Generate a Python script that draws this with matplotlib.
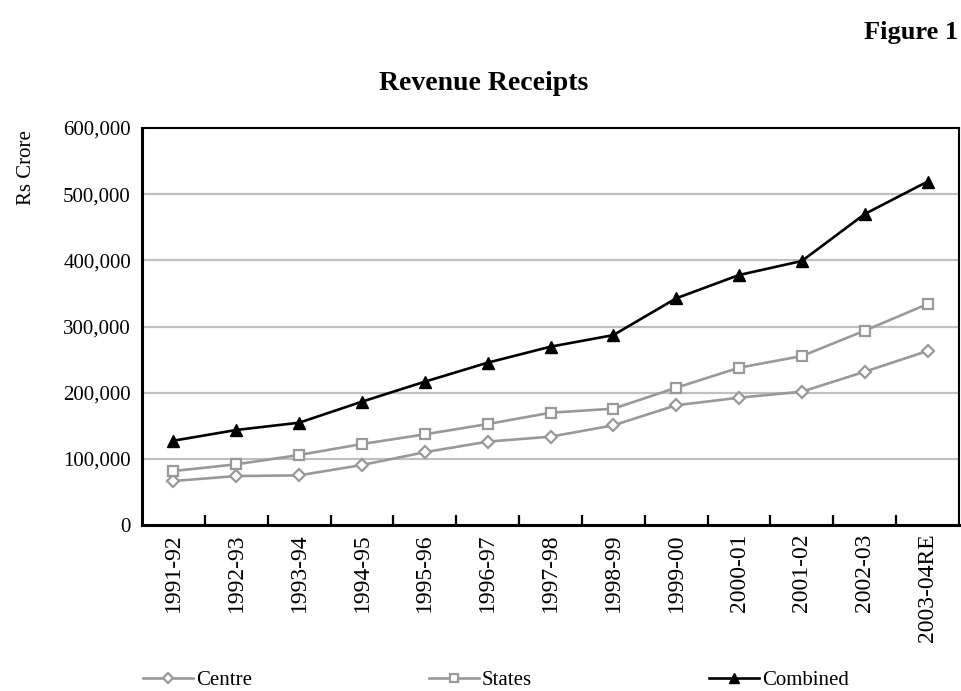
import matplotlib
matplotlib.use("Agg")
import matplotlib.pyplot as plt
from matplotlib.ticker import FixedLocator, FuncFormatter

plt.rcParams["font.family"] = ["Liberation Serif", "DejaVu Serif"]

YEARS = [
    "1991-92", "1992-93", "1993-94", "1994-95", "1995-96", "1996-97", "1997-98",
    "1998-99", "1999-00", "2000-01", "2001-02", "2002-03", "2003-04RE",
]

# Rs crore
CENTRE = [66500, 74000, 75000, 90700, 110000, 126000, 133500,
          150600, 181000, 192400, 201500, 231700, 263000]
STATES = [81600, 91700, 105800, 122400, 137000, 152600, 169700,
          175800, 207500, 237700, 255400, 293700, 334000]
COMBINED = [127400, 143600, 154600, 186400, 216600, 245300, 269500,
            287000, 342600, 377800, 399000, 470000, 519000]

Y_TICKS = [0, 100000, 200000, 300000, 400000, 500000, 600000]

GREY = "#999999"
GRID = "#c0c0c0"


def main() -> None:
    fig = plt.figure(figsize=(9.61, 6.91), dpi=100)
    ax = fig.add_axes([142 / 961, 1 - 525 / 691, (959 - 142) / 961, (525 - 128) / 691])

    x = list(range(len(YEARS)))
    ax.plot(x, CENTRE, color=GREY, lw=1.9, marker="D", ms=6.5, mfc="white",
            mec=GREY, mew=1.6, label="Centre", zorder=3)
    ax.plot(x, STATES, color=GREY, lw=1.9, marker="s", ms=7.5, mfc="white",
            mec=GREY, mew=1.6, label="States", zorder=3)
    ax.plot(x, COMBINED, color="black", lw=1.9, marker="^", ms=9,
            mfc="black", mec="black", label="Combined", zorder=4)

    ax.set_xlim(-0.5, len(YEARS) - 0.5)
    ax.set_ylim(0, 600000)

    ax.set_yticks(Y_TICKS)
    ax.yaxis.set_major_formatter(FuncFormatter(lambda v, _: f"{int(v):,}"))
    ax.tick_params(axis="y", length=0, pad=8, labelsize=15)
    for v in Y_TICKS[1:-1]:
        ax.axhline(v, color=GRID, lw=1.6, zorder=1)

    ax.set_xticks(x)
    ax.set_xticklabels(YEARS, rotation=90, va="top", ha="center")
    ax.tick_params(axis="x", which="major", length=0, pad=6, labelsize=17)
    ax.xaxis.set_minor_locator(FixedLocator([i + 0.5 for i in range(len(YEARS) - 1)]))
    ax.tick_params(axis="x", which="minor", direction="in", length=7, width=1.6,
                   color="black")

    for side in ("left", "bottom"):
        ax.spines[side].set_linewidth(2.2)
    for side in ("top", "right"):
        ax.spines[side].set_linewidth(1.5)

    ax.set_ylabel("Rs Crore", fontsize=15)
    ax.yaxis.set_label_coords(-0.13, 0.9)

    fig.text(484 / 961, 1 - 84 / 691, "Revenue Receipts", ha="center", va="center",
             fontsize=20, fontweight="bold")
    fig.text(958 / 961, 1 - 32 / 691, "Figure 1", ha="right", va="center",
             fontsize=19, fontweight="bold")

    fig.legend(loc="center", bbox_to_anchor=(496 / 961, 1 - 680 / 691), ncol=3,
               frameon=False, fontsize=15, handlelength=2.4, handletextpad=0.15,
               columnspacing=8.5, markerscale=0.75)

    fig.savefig("out.png", dpi=100)
    plt.close(fig)


if __name__ == "__main__":
    main()
